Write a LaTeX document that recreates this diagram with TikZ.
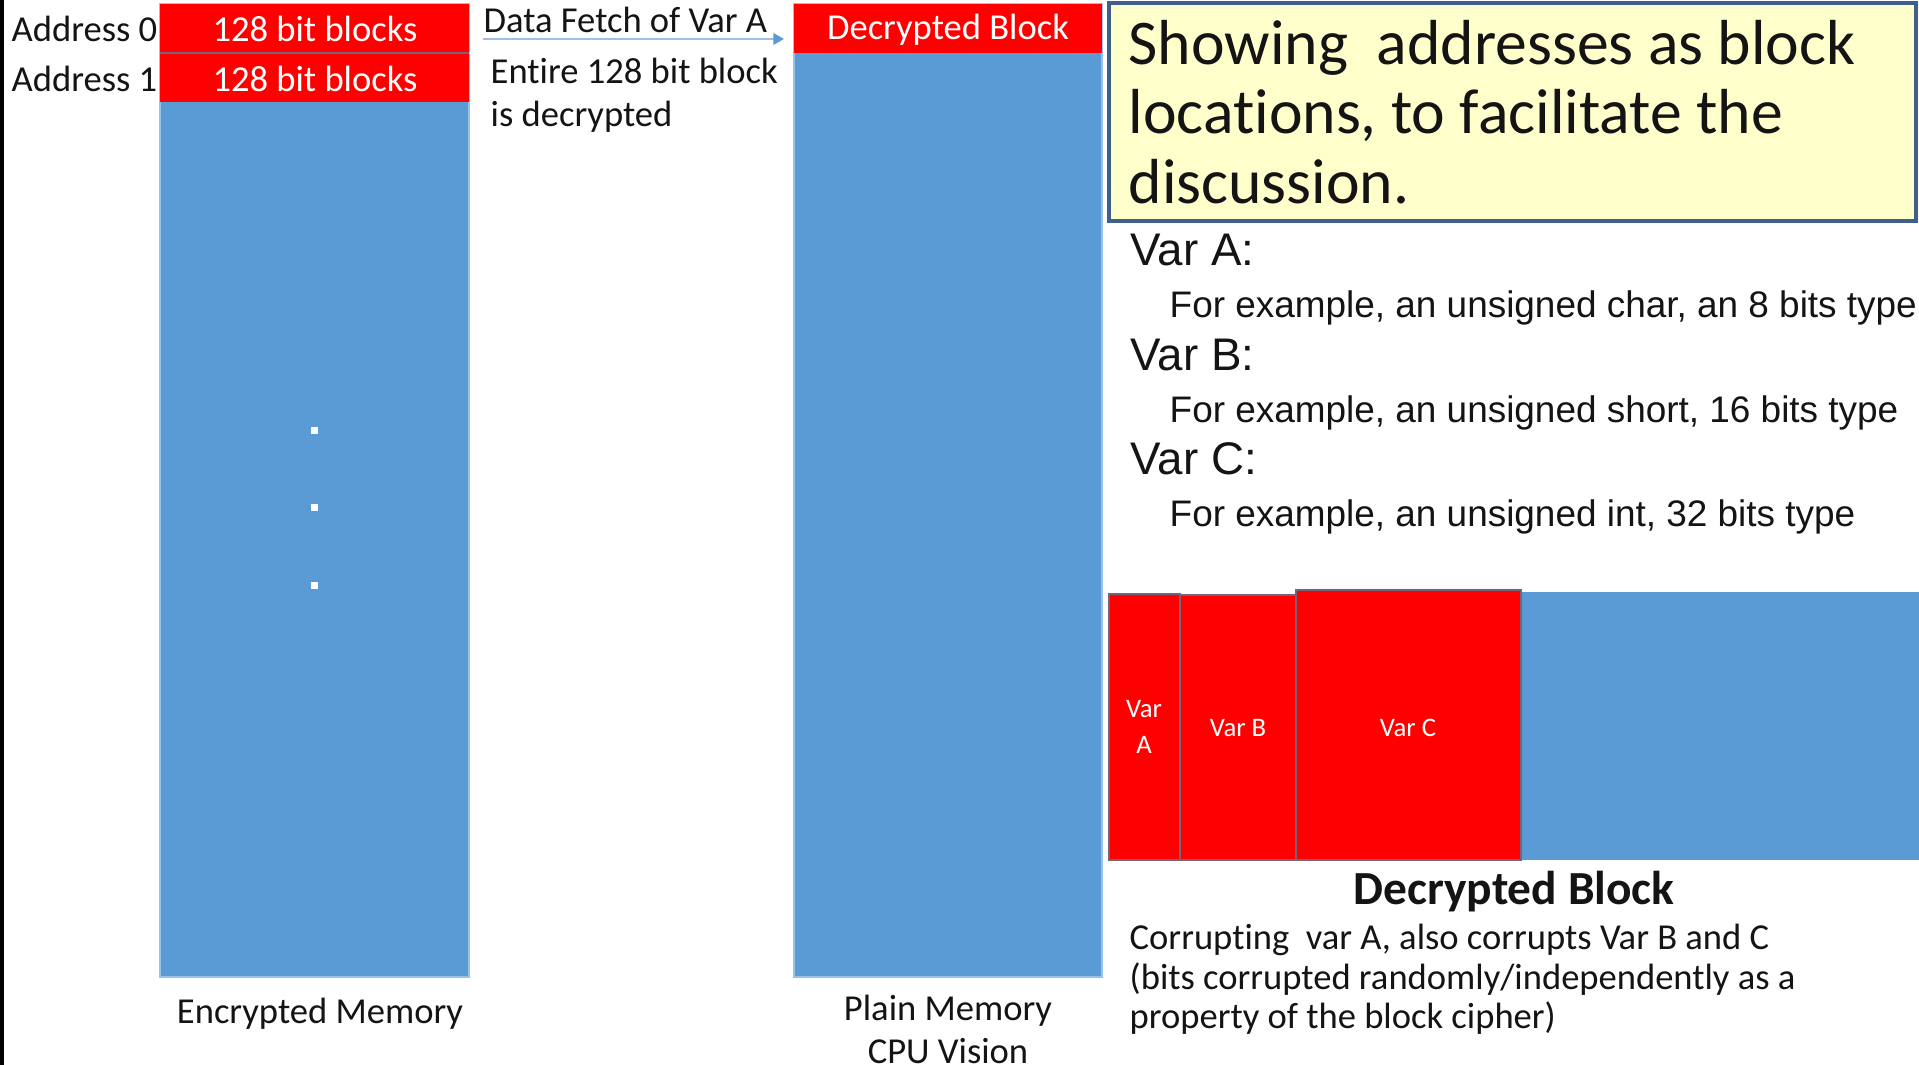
\documentclass[tikz,border=0pt]{standalone}
\usepackage{fontspec}
\setmainfont{Carlito}[Ligatures=NoCommon]
\newfontfamily\arialfont{Liberation Sans}
\usepackage{xcolor}
\usetikzlibrary{arrows.meta}
\definecolor{memblue}{RGB}{91,155,213}
\definecolor{memedge}{RGB}{150,195,235}
\definecolor{blockred}{RGB}{255,0,0}
\definecolor{cellline}{RGB}{120,100,120}
\definecolor{noteyellow}{RGB}{255,255,204}
\definecolor{noteedge}{RGB}{65,95,140}
\definecolor{fetchline}{RGB}{160,192,225}
\definecolor{inkblack}{RGB}{20,20,20}

\tikzset{
  darktext/.style={inner sep=0pt, text=inkblack, font=\fontsize{10.4}{12.5}\selectfont},
  whitetext/.style={inner sep=0pt, text=white, font=\fontsize{10.4}{12.5}\selectfont},
  varcell/.style={inner sep=0pt, text=white, align=center, font=\fontsize{7.6}{10}\selectfont},
  notetext/.style={inner sep=0pt, text=inkblack, font=\fontsize{18.1}{20}\selectfont},
  varhead/.style={inner sep=0pt, text=inkblack, font=\arialfont\fontsize{13}{15}\selectfont},
  varbody/.style={inner sep=0pt, text=inkblack, font=\arialfont\fontsize{10.5}{12.5}\selectfont},
}

\begin{document}
\begin{tikzpicture}[x=0.01cm, y=-0.01cm]

% 1. CANVAS
\useasboundingbox (0,0) rectangle (1919,1065);
\fill[white] (0,0) rectangle (1919,1065);
\fill[black] (0,0) rectangle (4,1065);

% 2. ENCRYPTED MEMORY (left column)
\filldraw[fill=memblue, draw=memedge, line width=0.5pt] (160,4) rectangle (469,977);
\fill[blockred] (160,4) rectangle (469,102);
\draw[cellline, line width=0.4pt] (160,53) -- (469,53);
\node[darktext, anchor=base west] (addr0) at (11,42) {Address 0};
\node[darktext, anchor=base west] (addr1) at (11,92) {Address 1};
\node[whitetext, anchor=base] (row0) at (315,42) {128 bit blocks};
\node[whitetext, anchor=base] (row1) at (315,92) {128 bit blocks};

% Dots
\foreach \dy in {427, 504, 582} {
    \fill[white] (310.5,\dy) rectangle +(7,7);
}
\node[darktext, anchor=base] (encname) at (320,1023) {Encrypted Memory};

% 3. DATA FETCH
\coordinate (fetchstart) at (483,39);
\coordinate (fetchend) at (784,39);
\draw[fetchline, line width=0.8pt, -{Triangle[length=3pt, width=3.2pt, color=memblue]}] (fetchstart) -- (fetchend);
\node[darktext, anchor=base west] (fetch) at (483,33) {Data Fetch of Var A};
\node[darktext, anchor=base west] (entire) at (490,84) {Entire 128 bit block};
\node[darktext, anchor=base west] (isdec) at (490,127) {is decrypted};

% 4. PLAIN MEMORY (middle column)
\filldraw[fill=memblue, draw=memedge, line width=0.5pt] (794,4) rectangle (1102,977);
\fill[blockred] (794,4) rectangle (1102,53);
\node[whitetext, anchor=base] (decblock) at (948,40) {Decrypted Block};
\node[darktext, anchor=base] (plainname) at (948,1020) {Plain Memory};
\node[darktext, anchor=base] (cpuname) at (948,1063) {CPU Vision};

% 5. NOTE BOX
\filldraw[fill=noteyellow, draw=noteedge, line width=1.2pt] (1109,3) rectangle (1916,221);
\node[notetext, anchor=base west] (note1) at (1128,65) {Showing\ \ addresses as block};
\node[notetext, anchor=base west] (note2) at (1128,134) {locations, to facilitate the};
\node[notetext, anchor=base west] (note3) at (1128,204) {discussion.};

% 6. VARIABLE TYPES
\node[varhead, anchor=base west] (varA) at (1130,266) {Var A:};
\node[varbody, anchor=base west] (typeA) at (1169,318) {For example, an unsigned char, an 8 bits type};
\node[varhead, anchor=base west] (varB) at (1130,371) {Var B:};
\node[varbody, anchor=base west] (typeB) at (1169,423) {For example, an unsigned short, 16 bits type};
\node[varhead, anchor=base west] (varC) at (1130,475) {Var C:};
\node[varbody, anchor=base west] (typeC) at (1169,527) {For example, an unsigned int, 32 bits type};

% 7. DECRYPTED BLOCK LAYOUT
\fill[memblue] (1521,592) rectangle (1919,860);
\filldraw[fill=blockred, draw=cellline, line width=0.4pt] (1296,590) rectangle (1521,860);
\filldraw[fill=blockred, draw=cellline, line width=0.4pt] (1180,595) rectangle (1296,860);
\filldraw[fill=blockred, draw=cellline, line width=0.4pt] (1109,594) rectangle (1180,860);
\node[varcell] (cellA) at (1144,727) {Var\\A};
\node[varcell, anchor=base] (cellB) at (1238,737) {Var B};
\node[varcell, anchor=base] (cellC) at (1408,737) {Var C};

\node[inner sep=0pt, text=inkblack, font=\bfseries\fontsize{13.5}{16}\selectfont, anchor=base] (blockname) at (1514,904) {Decrypted Block};
\node[darktext, anchor=base west] (corrupt1) at (1129,949) {Corrupting\ \ var A, also corrupts Var B and C};
\node[darktext, anchor=base west] (corrupt2) at (1129,989) {(bits corrupted randomly/independently as a};
\node[darktext, anchor=base west] (corrupt3) at (1129,1028) {property of the block cipher)};

\end{tikzpicture}
\end{document}
